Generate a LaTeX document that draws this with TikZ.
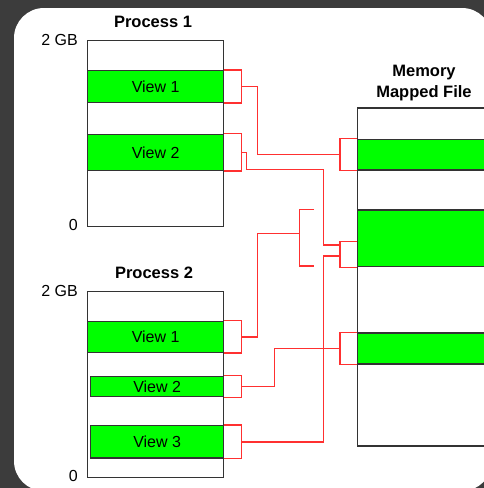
\documentclass[tikz,border=0pt]{standalone}
\usepackage{fontspec}
\setmainfont{Liberation Sans}
\usetikzlibrary{calc}
\definecolor{bgdark}{HTML}{3C3C3C}
\definecolor{viewgreen}{HTML}{00FF00}
\definecolor{linkred}{HTML}{FF3030}
\definecolor{edgegray}{HTML}{333333}
\tikzset{
  membox/.style={draw=edgegray, line width=1.3pt, fill=white, anchor=north west, inner sep=0pt},
  viewbox/.style={draw=edgegray, line width=1.3pt, fill=viewgreen, anchor=north west, inner sep=0pt,
    font=\fontsize{16}{19}\selectfont},
  titletext/.style={font=\fontsize{16.5}{21}\selectfont\bfseries, inner sep=0pt, align=center},
  scaletext/.style={font=\fontsize{16}{19}\selectfont, inner sep=0pt, anchor=east},
  link/.style={draw=linkred, line width=1.5pt}
}
\begin{document}
\begin{tikzpicture}[x=1pt,y=-1pt]
\useasboundingbox (0,0) rectangle (484,488);
\begin{scope}
\clip (0,0) rectangle (484,488);
\fill[bgdark] (0,0) rectangle (484,488);
\fill[white, rounded corners=30pt] (14,8) rectangle (492,491);

% Process 1
\node[titletext] (t1) at (153,22) {Process 1};
\node[membox, minimum width=136pt, minimum height=185.7pt] (p1) at (87,40) {};
\node[scaletext] (p1hi) at (78,40) {2 GB};
\node[scaletext] (p1lo) at (78,225) {0};
\node[viewbox, minimum width=136pt, minimum height=31.7pt] (p1v1) at (87,70) {View 1};
\node[viewbox, minimum width=136pt, minimum height=36pt] (p1v2) at (87,133.7) {View 2};

% Process 2
\node[titletext] (t2) at (154,273) {Process 2};
\node[membox, minimum width=136pt, minimum height=186pt] (p2) at (87,291) {};
\node[scaletext] (p2hi) at (78,291) {2 GB};
\node[scaletext] (p2lo) at (78,476) {0};
\node[viewbox, minimum width=136pt, minimum height=31pt] (p2v1) at (87,320.7) {View 1};
\node[viewbox, minimum width=133pt, minimum height=20.3pt] (p2v2) at (90,375.7) {View 2};
\node[viewbox, minimum width=133pt, minimum height=32.3pt] (p2v3) at (90,425) {View 3};

% Memory mapped file
\node[titletext] (t3) at (424,83.5) {Memory\\Mapped File};
\node[membox, minimum width=150pt, minimum height=338pt] (mf) at (357,107.3) {};
\node[viewbox, minimum width=150pt, minimum height=30.6pt] (m1) at (357,138.7) {};
\node[viewbox, minimum width=150pt, minimum height=56.7pt] (m2) at (357,209.3) {};
\node[viewbox, minimum width=150pt, minimum height=31pt] (m3) at (357,332.3) {};

% brackets on the views
\foreach \v in {p1v1,p1v2,p2v1,p2v2,p2v3}{
  \draw[link] (\v.north east) -- ++(17,0) |- (\v.south east);
  \coordinate (b-\v) at ($(\v.east)+(17,0)$);
}
% brackets on the file
\draw[link] (m1.north west) -- ++(-17,0) |- (m1.south west);
\coordinate (mb1) at ($(m1.west)+(-17,0)$);
\draw[link] (m3.north west) -- ++(-17,0) |- (m3.south west);
\coordinate (mb3) at ($(m3.west)+(-17,0)$);
\draw[link] (m2.south west) -- ++(-17,0) -- ++(0,-26) -- ++(17,0);
\coordinate (mb2a) at (340,245);
\coordinate (mb2b) at (340,256);

% floating bracket
\coordinate (fb) at (299.3,233.3);
\draw[link] (314,209.3) -- (299.3,209.3) -- (299.3,266) -- (314,266);

% junctions
\coordinate (j0) at (246.7,169.5);
\coordinate (j1) at (323.3,245);
\coordinate (j2) at (323.3,256);

% routes
\draw[link] (b-p1v1) -- ++(16,0) |- (mb1);
\draw[link] (b-p1v2) -| (j0) -| (j1) -- (mb2a);
\draw[link] (b-p2v1) -- ++(16,0) |- (fb);
\draw[link] (b-p2v2) -- ++(33.3,0) |- (mb3);
\draw[link] (b-p2v3) -| (j2) -- (mb2b);
\end{scope}
\end{tikzpicture}
\end{document}
